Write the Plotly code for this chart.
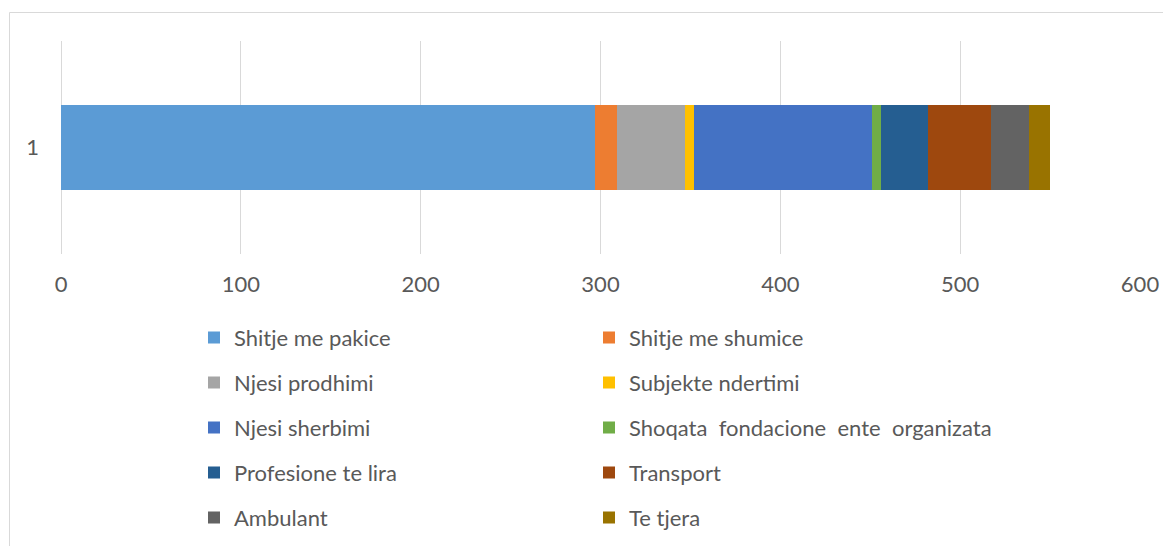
import plotly.graph_objects as go

categories = ["1"]
series_names = [
    "Shitje me pakice", "Shitje me shumice", "Njesi prodhimi", "Subjekte ndertimi",
    "Njesi sherbimi", "Shoqata  fondacione  ente  organizata", "Profesione te lira",
    "Transport", "Ambulant", "Te tjera",
]
series_values = [297, 12, 38, 5, 99, 5, 26, 35, 21, 12]
series_colors = [
    "#5B9BD5", "#ED7D31", "#A5A5A5", "#FFC000", "#4472C4", "#70AD47",
    "#255E91", "#9E480E", "#636363", "#997300",
]
x_ticks = [0, 100, 200, 300, 400, 500, 600]

FONT = "Lato"
TXT = "#595959"
FS = 22
OFF = 8  # page body margin offset
W, H = 1171, 546
# target screen positions of plot area: left 61, right 1140, top 41, bottom 254
ML = 61 - OFF
MT = 41 - OFF
MR = W - (1140 - OFF)
MB = H - (254 - OFF)
PW = W - ML - MR
PH = H - MT - MB

fig = go.Figure()
for i, (name, val, col) in enumerate(zip(series_names, series_values, series_colors)):
    fig.add_trace(go.Bar(
        y=categories, x=[val], name=name, orientation="h",
        marker=dict(color=col, line=dict(width=0)),
        legend="legend" if i % 2 == 0 else "legend2",
        legendgroup=name,
    ))

def px_x(p):
    return (p - OFF - ML) / PW

def px_y(p):
    return (H - MB - (p - OFF)) / PH

legend_common = dict(
    orientation="v", xanchor="left", yanchor="top",
    font=dict(family=FONT, size=FS, color=TXT),
    tracegroupgap=13.4, bgcolor="rgba(0,0,0,0)", borderwidth=0,
)

fig.update_layout(
    width=W, height=H,
    margin=dict(l=ML, r=MR, t=MT, b=MB),
    paper_bgcolor="white", plot_bgcolor="white",
    barmode="stack", bargap=0.6,
    font=dict(family=FONT, size=FS, color=TXT),
    xaxis=dict(
        range=[0, 600], tickvals=x_ticks, showgrid=True, gridcolor="#D9D9D9", gridwidth=1,
        zeroline=True, zerolinecolor="#D9D9D9", zerolinewidth=1, showline=False,
        ticks="", ticklabelstandoff=15, tickfont=dict(family=FONT, size=FS, color=TXT),
        fixedrange=True,
    ),
    yaxis=dict(
        type="category", showgrid=False, zeroline=False, showline=False, ticks="",
        ticklabelstandoff=21, tickfont=dict(family=FONT, size=FS, color=TXT),
    ),
    legend=dict(x=px_x(194), y=px_y(316.7), **legend_common),
    legend2=dict(x=px_x(194 + 395), y=px_y(316.7), **legend_common),
    shapes=[dict(
        type="rect", xref="paper", yref="paper",
        x0=px_x(9.5), y0=px_y(12.5), x1=px_x(1300), y1=px_y(700),
        line=dict(color="#D9D9D9", width=1), fillcolor="rgba(0,0,0,0)", layer="below",
    )],
)

fig.write_html("out.html")
